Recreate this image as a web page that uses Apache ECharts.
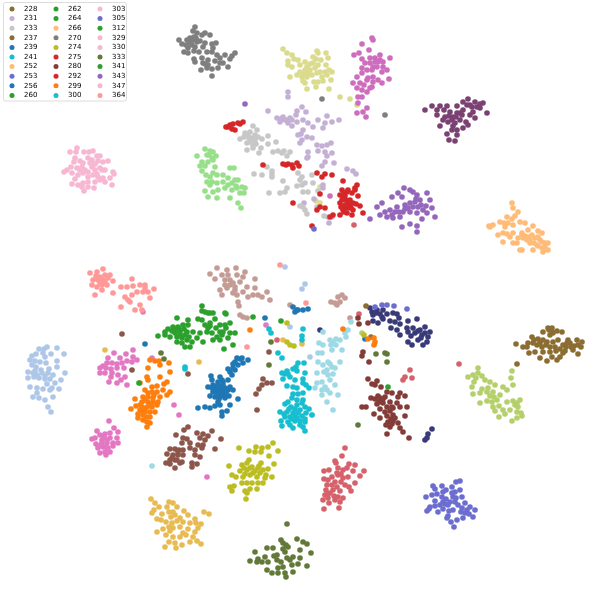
<!DOCTYPE html>
<html><head><meta charset="utf-8">
<script src="https://cdn.jsdelivr.net/npm/echarts@6/dist/echarts.min.js"></script>
<style>html,body{margin:0;padding:0;background:#fff}#c{width:609px;height:605px}</style></head>
<body><div id="c"></div>
<script>
const legendCol1=['228','231','233','237','239','241','252','253','256','260'];
const legendCol2=['262','264','266','270','274','275','280','292','299','300'];
const legendCol3=['303','305','312','329','330','333','341','343','347','364'];

const s228=[[516,344],[523,347],[527,347],[532,337],[528,343],[533,343],[538,339],[543,332],[548,328],[552,328],[557,331],[562,332],[543,340],[550,335],[553,333],[537,345],[547,342],[553,342],[558,340],[568,340],[577,340],[582,342],[542,347],[550,347],[555,347],[563,345],[570,343],[578,345],[529,353],[535,352],[543,352],[550,352],[563,353],[573,350],[540,358],[547,361],[552,357],[557,360],[560,357],[578,354],[549,330],[546,345],[560,349],[566,347],[574,346],[556,351],[567,343],[581,347],[540,343],[565,351],[571,347],[552,332],[534,340]];
const s231=[[268,111],[297,111],[302,107],[306,112],[277,118],[283,117],[280,122],[285,120],[290,118],[296,115],[288,123],[292,126],[297,122],[303,120],[308,123],[313,127],[318,120],[327,116],[325,123],[332,122],[339,120],[323,128],[303,130],[298,135],[302,140],[307,137],[312,138],[300,143],[317,145],[322,146],[327,145],[331,143],[318,151],[325,152],[332,153],[308,152],[308,157],[307,158],[325,162],[322,166],[334,163],[347,169],[353,171],[356,174],[323,185],[323,188],[314,199],[332,217],[329,223],[304,203],[288,92],[288,97],[287,120],[281,119],[292,120],[301,134],[327,156],[328,217]];
const s233=[[253,126],[257,130],[248,135],[240,139],[252,138],[255,140],[247,143],[253,145],[258,137],[268,136],[262,139],[268,144],[276,142],[247,150],[253,148],[261,148],[259,153],[273,152],[278,151],[282,153],[287,156],[290,152],[267,167],[272,171],[272,177],[262,175],[254,174],[283,181],[287,188],[285,192],[280,193],[269,193],[298,173],[302,177],[312,175],[305,183],[302,185],[297,186],[313,183],[318,191],[308,192],[303,192],[303,207],[300,206],[305,210],[307,214],[324,216],[317,207],[245,133],[250,142],[255,135],[284,151],[300,180],[272,174],[250,132],[244,137],[249,138],[256,144]];
const s237=[[366,306],[517,364],[371,337]];
const s239=[[237,358],[242,358],[248,360],[233,364],[238,365],[243,363],[228,369],[235,370],[232,375],[228,380],[211,376],[212,380],[220,377],[223,382],[215,387],[220,387],[225,388],[230,387],[208,387],[213,392],[218,392],[223,392],[228,390],[233,390],[210,396],[215,397],[220,397],[225,398],[229,396],[238,399],[220,405],[215,406],[210,408],[205,407],[198,408],[227,411],[222,412],[222,416],[230,405],[218,402],[223,385],[218,382],[235,362],[221,390],[216,390],[224,395],[219,394],[213,385],[222,380],[240,359],[218,385],[222,388],[217,395],[226,393],[230,372],[233,368],[212,388],[219,399]];
const s241=[[269,329],[271,333],[303,329],[302,336],[302,340],[278,353],[282,358],[298,363],[304,363],[293,369],[297,371],[305,373],[287,371],[282,373],[285,374],[283,379],[290,377],[295,380],[303,379],[303,383],[287,386],[293,387],[297,388],[309,388],[303,393],[298,394],[293,394],[292,398],[185,367],[185,369],[296,367],[288,374],[306,385]];
const s252=[[512,203],[513,208],[518,212],[515,216],[507,217],[512,219],[508,223],[500,222],[504,223],[505,227],[493,225],[490,227],[513,225],[520,222],[525,223],[533,226],[538,231],[528,230],[513,233],[510,237],[503,233],[498,235],[503,242],[513,243],[517,243],[522,233],[523,238],[528,237],[530,243],[535,238],[538,237],[542,233],[542,242],[537,245],[545,243],[548,243],[542,248],[548,250],[543,252],[533,250],[520,250],[522,250],[525,236],[530,240],[534,243],[540,240],[545,247],[507,234]];
const s253=[[433,486],[435,489],[442,486],[456,482],[460,481],[452,487],[443,492],[432,495],[437,494],[426,497],[455,492],[460,490],[442,497],[453,497],[462,497],[435,501],[443,502],[455,502],[465,503],[430,507],[427,511],[438,512],[443,509],[448,505],[453,510],[462,508],[470,507],[475,510],[465,513],[448,516],[447,518],[457,520],[451,522],[463,518],[473,517],[454,527],[446,499],[450,502],[440,505],[458,505],[467,510],[435,506],[449,511],[446,490],[452,493],[445,504],[456,498],[429,509],[461,512],[469,514]];
const s256=[[293,307],[297,310],[303,310],[308,309],[295,312],[298,310],[145,344],[365,339],[265,318]];
const s260=[[158,336],[165,332],[168,329],[173,327],[177,318],[178,327],[183,325],[188,320],[188,325],[165,335],[170,337],[175,333],[180,332],[187,332],[177,342],[182,343],[187,340],[185,347],[190,347],[182,338],[192,342],[177,337],[193,332],[172,331],[185,335],[179,329],[176,330],[184,329],[189,337],[180,335]];
const s262=[[198,319],[202,320],[197,338],[203,342],[200,333],[208,328],[210,323],[215,319],[220,325],[225,325],[230,323],[223,332],[222,335],[230,333],[235,333],[228,338],[233,345],[213,340],[220,340],[212,333],[217,337],[205,325],[216,328],[207,332],[210,326],[220,332],[226,328]];
const s264=[[202,306],[202,311],[208,313],[213,313],[225,313],[226,314],[205,312],[210,313]];
const s266=[[522,235],[518,238],[527,240],[532,235],[538,246],[489,226]];
const s270=[[195,27],[193,31],[197,33],[202,35],[205,33],[210,35],[179,40],[182,44],[187,40],[190,42],[193,40],[197,42],[192,45],[195,47],[188,48],[184,52],[188,53],[194,51],[199,52],[205,43],[212,44],[216,43],[207,52],[212,52],[213,48],[217,55],[225,55],[232,56],[235,53],[220,58],[215,61],[208,60],[202,58],[194,59],[195,62],[203,63],[208,65],[212,69],[218,68],[228,67],[230,59],[201,70],[212,76],[207,68],[223,63],[220,63],[203,47],[190,38],[200,41],[196,38],[322,99],[385,115],[191,44],[194,37],[186,45],[205,64]];
const s274=[[239,448],[249,451],[256,447],[262,448],[268,447],[273,443],[278,451],[255,452],[261,452],[269,456],[249,460],[229,466],[242,465],[247,463],[261,463],[274,464],[252,467],[258,468],[268,469],[240,471],[247,470],[253,473],[260,473],[266,475],[272,477],[232,475],[236,477],[243,477],[250,475],[257,477],[265,478],[242,483],[247,483],[252,483],[258,483],[263,483],[230,487],[234,486],[232,491],[257,489],[245,491],[250,489],[247,493],[246,499],[287,323],[287,342],[290,345],[294,346],[364,335],[250,468],[255,471],[263,470],[245,474],[259,466],[244,468]];
const s275=[[317,173],[322,177],[325,174],[332,175],[343,181],[357,185],[355,190],[342,190],[347,192],[352,193],[358,196],[340,195],[343,198],[350,200],[353,203],[340,203],[345,205],[348,208],[353,210],[360,206],[363,213],[343,210],[347,213],[340,215],[333,215],[330,217],[317,210],[325,208],[320,194],[293,203],[355,188],[341,207],[352,215],[312,226],[346,200],[350,205],[345,196],[348,190],[344,212],[356,204],[320,207],[342,200],[348,203],[346,207],[351,208],[344,193]];
const s280=[[368,379],[377,381],[372,384],[375,385],[381,387],[387,392],[392,393],[400,393],[405,396],[398,397],[371,398],[375,399],[380,398],[385,397],[377,404],[383,403],[390,402],[397,403],[362,407],[366,407],[380,409],[387,407],[393,408],[400,407],[407,407],[374,414],[380,418],[387,416],[393,415],[405,416],[388,422],[393,421],[398,423],[390,427],[400,428],[387,434],[403,432],[409,438],[392,407],[391,419],[385,412],[378,396],[358,318],[359,324],[368,323],[363,352],[362,356],[369,362],[383,399],[390,411],[395,418],[386,425],[392,424],[379,402]];
const s292=[[243,122],[238,123],[233,124],[228,127],[232,129],[235,130],[240,124],[226,127],[230,125],[283,164],[288,164],[292,165],[297,163],[299,166],[293,168],[263,165],[286,165]];
const s299=[[150,360],[155,361],[159,361],[169,363],[160,365],[148,368],[147,377],[170,372],[160,377],[148,380],[140,383],[152,387],[157,386],[164,384],[167,382],[145,390],[152,392],[157,392],[163,390],[170,392],[167,395],[143,397],[148,397],[153,398],[160,397],[135,399],[142,402],[148,402],[153,402],[158,402],[136,406],[142,407],[147,407],[152,407],[131,409],[140,410],[145,412],[150,412],[155,412],[138,414],[143,415],[150,417],[138,418],[143,420],[147,422],[150,423],[147,427],[157,405],[374,338],[368,339],[375,342],[374,345],[250,330],[343,329],[145,400],[150,405],[140,405],[145,409],[154,395],[148,393],[143,412],[147,417]];
const s300=[[297,400],[303,400],[288,402],[285,404],[291,407],[297,405],[302,403],[305,407],[309,409],[280,412],[287,412],[293,413],[300,410],[306,413],[285,417],[290,417],[295,415],[302,416],[312,415],[281,421],[288,422],[295,421],[300,421],[305,422],[282,426],[290,425],[293,428],[300,425],[303,427],[305,431],[295,409],[289,409],[297,418],[292,419],[298,413],[284,414],[305,419]];
const s303=[[77,148],[70,152],[76,152],[75,158],[74,162],[84,152],[89,152],[93,151],[97,156],[100,156],[80,161],[83,163],[88,158],[92,160],[98,161],[103,162],[108,161],[71,167],[67,170],[64,172],[72,173],[77,168],[82,167],[85,170],[92,167],[95,170],[100,168],[105,170],[113,172],[114,174],[90,163],[95,164],[88,172],[80,170],[97,174]];
const s305=[[375,307],[382,305],[387,305],[394,306],[407,309],[314,229]];
const s312=[[139,383],[388,387]];
const s329=[[78,175],[83,173],[88,177],[93,175],[98,177],[75,179],[72,184]];
const s330=[[78,185],[83,183],[88,182],[95,182],[100,180],[105,182],[110,178]];
const s333=[[287,524],[281,540],[297,539],[303,542],[307,544],[311,553],[267,548],[273,548],[283,543],[288,547],[255,552],[250,561],[257,562],[265,557],[277,555],[285,552],[300,550],[300,558],[262,562],[268,562],[277,560],[287,558],[293,557],[298,564],[307,566],[267,570],[278,568],[283,567],[292,565],[272,573],[278,573],[285,573],[293,572],[286,577],[161,353],[164,359],[271,342],[269,365],[358,425],[376,354],[385,353],[387,354],[387,362],[286,545],[283,549],[290,560],[281,562],[274,556],[258,559]];
const s341=[[253,317],[281,321],[224,349]];
const s343=[[382,203],[377,207],[392,197],[398,193],[402,197],[404,188],[410,190],[413,192],[417,195],[427,193],[420,200],[430,200],[410,203],[405,205],[397,207],[390,210],[385,212],[380,215],[387,217],[393,218],[400,217],[403,212],[410,212],[417,213],[423,210],[432,208],[427,213],[435,217],[422,219],[410,224],[402,227],[417,226],[417,232],[370,219],[415,202],[418,207],[392,215],[245,104],[413,207],[405,209],[399,212],[421,205],[426,206],[408,208],[395,212],[416,199]];
const s347=[[112,185],[82,187],[88,187],[94,188],[84,191],[103,178],[102,170]];
const s364=[[103,269],[97,272],[105,275],[110,275],[93,280],[98,280],[103,280],[108,278],[92,285],[97,287],[102,285],[107,285],[113,281],[95,295],[102,290],[113,293],[90,273],[100,277],[132,279],[121,287],[127,287],[133,286],[140,285],[145,285],[154,289],[137,292],[143,292],[148,292],[125,297],[132,295],[130,302],[150,298],[121,307],[135,310],[140,305],[142,310],[128,300],[145,288],[280,265],[306,303],[247,347],[100,283],[105,282],[96,276]];

const extraLightBlue=[[39,349],[44,349],[47,347],[57,348],[64,354],[32,356],[36,354],[43,353],[45,357],[51,354],[30,360],[35,361],[40,362],[46,363],[57,361],[32,365],[36,367],[41,370],[49,369],[57,367],[28,372],[33,373],[37,375],[45,376],[53,375],[65,373],[28,378],[34,377],[39,378],[45,379],[61,380],[30,387],[37,388],[43,389],[52,388],[59,389],[37,393],[33,397],[39,398],[45,400],[53,397],[48,407],[51,412],[55,383],[47,384],[50,390],[285,267],[305,284],[302,289],[290,327],[310,357],[42,373],[48,373],[35,371],[50,379]];
const extraPink=[[133,350],[114,353],[108,358],[126,354],[120,358],[133,357],[137,360],[103,366],[107,363],[112,363],[117,364],[122,363],[127,361],[100,368],[106,368],[111,369],[117,368],[124,368],[132,362],[100,373],[105,373],[112,373],[118,375],[125,377],[111,377],[109,382],[117,383],[121,380],[127,385],[152,358],[174,405],[179,415],[109,421],[97,431],[114,428],[118,432],[105,434],[110,433],[95,438],[100,435],[92,439],[102,440],[107,440],[117,438],[96,444],[102,443],[107,443],[113,443],[118,443],[98,448],[103,447],[108,448],[113,446],[100,453],[106,455],[110,452],[105,452],[207,477],[266,325],[143,312],[104,437],[106,447],[101,445],[110,438]];
const extraTan=[[217,268],[210,274],[215,279],[222,275],[227,270],[236,268],[245,272],[237,275],[230,280],[225,285],[233,283],[240,282],[247,287],[220,290],[227,288],[235,290],[243,292],[255,279],[255,288],[267,292],[262,297],[248,297],[237,295],[233,293],[222,295],[238,302],[239,306],[270,300],[253,295],[258,295],[243,277],[228,275],[240,315],[247,318],[243,317],[331,302],[335,303],[338,297],[342,295],[345,298],[340,302],[337,305],[350,318],[290,305],[230,285],[235,287],[225,280]];
const extraLightGreen=[[197,156],[205,149],[210,151],[213,152],[216,156],[207,155],[212,158],[202,162],[208,162],[213,160],[200,166],[205,166],[202,171],[206,175],[215,167],[213,173],[217,175],[210,177],[207,182],[212,182],[217,183],[223,175],[230,168],[234,168],[228,178],[223,182],[232,183],[235,180],[238,180],[242,187],[245,188],[237,188],[225,188],[232,190],[240,193],[244,193],[205,191],[213,192],[208,197],[217,198],[230,198],[238,203],[241,208],[218,190],[228,185],[236,186],[210,185],[209,155]];
const extraKhaki=[[283,49],[287,53],[292,55],[294,59],[288,61],[288,65],[292,67],[298,60],[300,65],[305,62],[307,67],[313,57],[317,51],[318,53],[326,53],[328,58],[316,59],[313,63],[318,65],[326,65],[329,70],[332,72],[325,72],[320,72],[310,70],[305,70],[300,72],[297,75],[290,77],[302,77],[307,77],[312,75],[317,73],[305,83],[303,81],[314,82],[318,82],[323,81],[331,80],[316,87],[307,89],[329,89],[327,75],[322,77],[308,73],[340,97],[350,99],[357,105],[320,187],[316,201],[320,203],[310,64],[315,68],[304,74],[321,60]];
const extraOrchid=[[373,40],[362,44],[369,50],[354,55],[359,53],[362,59],[370,58],[375,58],[380,55],[390,58],[383,62],[378,62],[370,63],[365,63],[362,68],[367,70],[372,70],[377,67],[387,70],[382,72],[373,77],[368,78],[362,73],[357,77],[353,83],[360,83],[367,80],[378,80],[382,83],[389,79],[372,87],[367,92],[362,90],[357,88],[362,97],[358,103],[367,108],[363,112],[357,113],[366,117],[373,82],[383,67],[358,97],[370,88],[372,38],[330,196],[375,62],[373,67],[364,85],[380,60]];
const extraPlum=[[425,110],[432,106],[437,110],[440,106],[447,106],[457,106],[463,102],[468,99],[475,102],[483,103],[480,108],[487,113],[475,118],[470,115],[463,110],[457,113],[450,112],[445,117],[437,115],[443,120],[452,120],[460,120],[463,128],[468,125],[440,126],[453,126],[457,130],[447,134],[457,135],[449,140],[455,141],[452,130],[467,105],[472,107],[477,107],[460,113],[453,117],[448,122],[444,110],[462,115],[470,105],[456,117],[449,116],[455,123],[466,122],[473,112],[480,104]];
const extraNavy=[[370,308],[372,312],[377,310],[383,310],[373,315],[380,314],[387,314],[373,321],[378,323],[383,319],[390,321],[393,313],[397,314],[399,318],[395,322],[400,324],[391,328],[408,321],[417,319],[425,327],[407,328],[413,328],[420,330],[430,332],[397,330],[400,335],[408,332],[415,333],[422,335],[428,337],[408,342],[412,345],[418,340],[423,345],[427,342],[432,429],[428,434],[427,438],[425,440],[320,330],[376,313],[382,317],[418,331],[421,338],[411,336],[425,333]];
const extraRose=[[345,448],[342,456],[335,461],[336,463],[338,468],[349,464],[355,465],[324,471],[329,470],[343,470],[353,471],[364,471],[337,473],[332,477],[338,475],[347,468],[360,476],[324,479],[328,480],[335,482],[343,478],[348,477],[355,483],[327,485],[332,485],[337,487],[345,485],[349,487],[326,490],[330,493],[340,491],[351,491],[334,496],[325,495],[328,498],[343,498],[323,500],[335,500],[340,502],[329,503],[324,509],[339,508],[459,364],[410,370],[405,377],[403,380],[412,378],[359,314],[277,340],[354,225],[341,474],[333,490],[341,482],[328,494],[338,497]];
const extraLime=[[478,368],[468,377],[473,375],[478,373],[482,376],[474,382],[485,380],[490,382],[472,387],[482,389],[488,388],[495,385],[503,387],[507,390],[473,394],[480,393],[487,392],[493,392],[500,395],[487,401],[480,403],[492,402],[497,400],[507,402],[493,407],[513,401],[520,400],[515,405],[518,407],[495,411],[503,410],[510,410],[517,412],[505,414],[522,416],[517,418],[512,421],[499,417],[512,371],[511,378],[513,385],[362,333],[476,378],[494,397],[490,396],[517,403],[499,406],[521,413]];
const extraGold=[[151,499],[155,503],[159,507],[169,502],[173,503],[167,507],[154,510],[152,513],[162,514],[169,512],[177,507],[184,511],[188,515],[204,512],[209,514],[157,519],[161,520],[171,517],[175,515],[180,518],[195,519],[166,522],[172,523],[183,522],[190,523],[196,523],[201,524],[157,532],[163,529],[169,527],[173,528],[180,527],[188,529],[195,532],[198,528],[166,535],[173,537],[180,537],[183,533],[193,537],[175,543],[169,542],[182,545],[190,542],[165,547],[176,548],[197,541],[201,544],[105,350],[199,362],[283,340],[302,344],[173,512],[177,521],[170,531],[186,535]];
const extraAqua=[[323,332],[319,343],[323,345],[330,340],[336,339],[340,340],[345,333],[348,330],[346,337],[331,345],[336,345],[332,350],[342,350],[318,353],[322,353],[318,362],[328,362],[340,362],[323,365],[332,367],[335,368],[324,372],[317,373],[328,375],[333,374],[322,382],[317,383],[330,380],[335,385],[315,388],[322,390],[327,390],[330,393],[322,395],[338,395],[327,402],[333,410],[312,415],[351,322],[152,466],[330,364],[327,370],[325,387],[333,342]];
const extraBrown=[[188,427],[184,430],[176,435],[183,438],[182,443],[197,433],[203,434],[208,436],[200,438],[212,431],[221,439],[187,439],[190,443],[198,445],[203,445],[205,440],[170,449],[167,454],[175,449],[179,450],[183,450],[190,448],[195,450],[202,448],[215,449],[173,455],[178,455],[183,455],[195,455],[200,457],[166,463],[170,460],[177,460],[182,462],[192,463],[197,464],[170,464],[175,468],[180,463],[192,467],[263,379],[267,383],[262,385],[272,383],[259,389],[256,394],[257,410],[269,352],[188,374],[122,334],[132,370],[175,460],[178,452],[172,458]];

const names=legendCol1.concat(legendCol2,legendCol3);
const colors=['#8c6d31','#c5b0d5','#c7c7c7','#8c6d31','#1f77b4','#17becf','#ffbb78','#6b6ecf','#1f77b4','#2ca02c','#2ca02c','#2ca02c','#ffbb78','#7f7f7f','#bcbd22','#d62728','#843c39','#d62728','#ff7f0e','#17becf','#f7b6d2','#6b6ecf','#2ca02c','#f7b6d2','#f7b6d2','#637939','#2ca02c','#9467bd','#f7b6d2','#ff9896'];
const values=[s228,s231,s233,s237,s239,s241,s252,s253,s256,s260,s262,s264,s266,s270,s274,s275,s280,s292,s299,s300,s303,s305,s312,s329,s330,s333,s341,s343,s347,s364];
const extraValues=[extraLightBlue,extraPink,extraTan,extraLightGreen,extraKhaki,extraOrchid,extraPlum,extraNavy,extraRose,extraLime,extraGold,extraAqua,extraBrown];
const extraColors=['#aec7e8','#e377c2','#c49c94','#98df8a','#dbdb8d','#ce6dbd','#7b4173','#393b79','#d6616b','#b5cf6b','#e7ba52','#9edae5','#8c564b'];

const scatter=(name,data,color)=>({type:'scatter',name,data,symbolSize:5.6,itemStyle:{color,opacity:1,borderWidth:0},silent:true,z:2});
const series=extraValues.map((d,i)=>scatter('other'+i,d,extraColors[i])).concat(names.map((n,i)=>scatter(n,values[i],colors[i])));
const legendOf=(data,left)=>({data,left,top:5,orient:'vertical',padding:0,itemWidth:5,itemHeight:5,itemGap:1.6,icon:'circle',selectedMode:false,z:10,
  textStyle:{fontFamily:'DejaVu Sans',fontSize:7,lineHeight:8,color:'#000',padding:[0,0,0,4.5]}});
const chart=echarts.init(document.getElementById('c'),null,{renderer:'canvas'});
chart.setOption({animation:false,backgroundColor:'#fff',
  grid:{left:0,right:0,top:0,bottom:0},
  xAxis:{type:'value',min:0,max:609,show:false},
  yAxis:{type:'value',min:0,max:605,inverse:true,show:false},
  graphic:[{type:'rect',z:5,shape:{x:3.5,y:2.5,width:123,height:98.5,r:2},style:{fill:'#fff',stroke:'#dcdcdc',lineWidth:1}}],
  legend:[legendOf(legendCol1,9.5),legendOf(legendCol2,53.5),legendOf(legendCol3,97.5)],
  series});
</script></body></html>
